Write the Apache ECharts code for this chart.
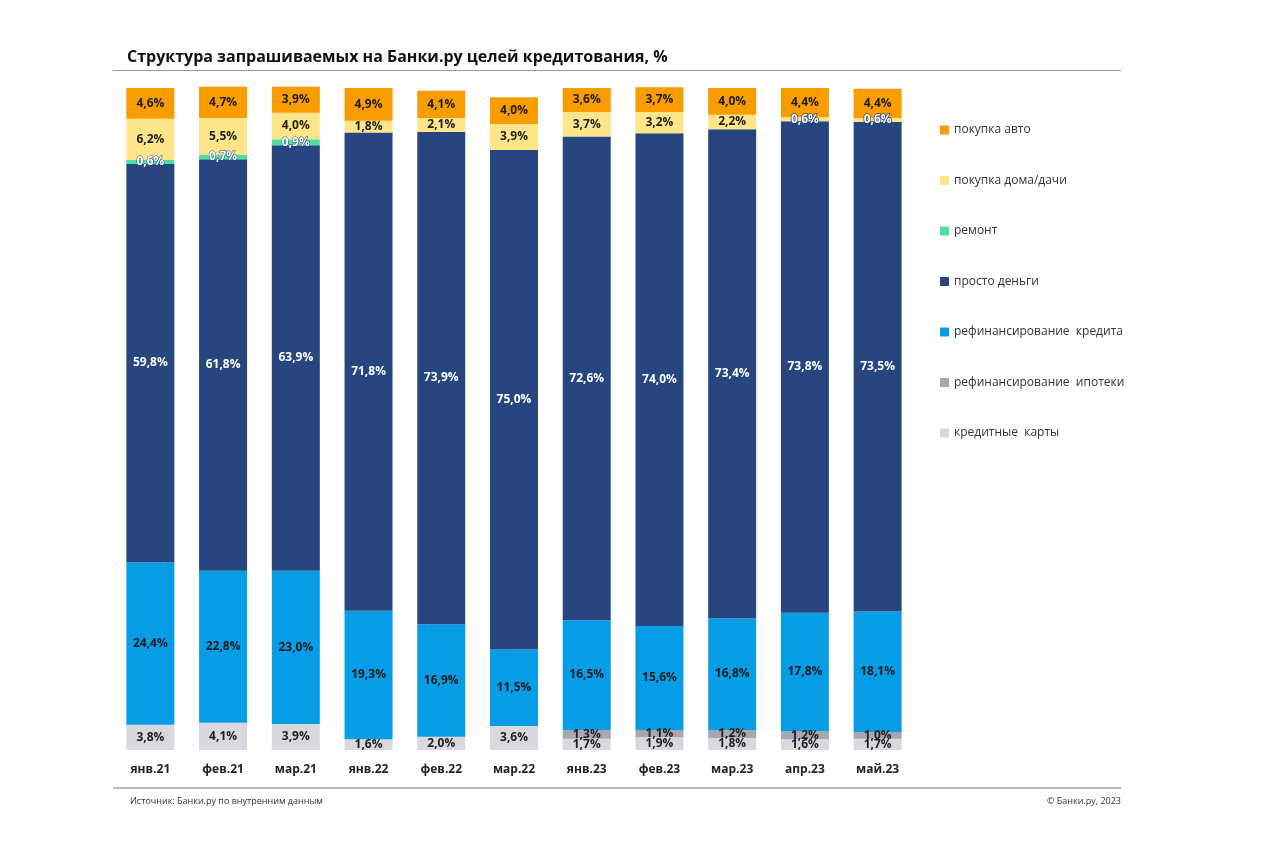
<!DOCTYPE html>
<html><head><meta charset="utf-8">
<script src="https://cdn.jsdelivr.net/npm/echarts@6/dist/echarts.min.js"></script>
<style>html,body{margin:0;padding:0;background:#fff}#c{width:1280px;height:853px}</style>
</head><body><div id="c"></div>
<script>
const categories = ['янв.21','фев.21','мар.21','янв.22','фев.22','мар.22','янв.23','фев.23','мар.23','апр.23','май.23'];
const cards    = [3.8, 4.1, 3.9, 1.6, 2.0, 3.6, 1.7, 1.9, 1.8, 1.6, 1.7];
const mortgage = [0, 0, 0, 0, 0, 0, 1.3, 1.1, 1.2, 1.2, 1.0];
const refin    = [24.4, 22.8, 23.0, 19.3, 16.9, 11.5, 16.5, 15.6, 16.8, 17.8, 18.1];
const money    = [59.8, 61.8, 63.9, 71.8, 73.9, 75.0, 72.6, 74.0, 73.4, 73.8, 73.5];
const repair   = [0.6, 0.7, 0.9, 0, 0, 0, 0, 0, 0, 0, 0];
const house    = [6.2, 5.5, 4.0, 1.8, 2.1, 3.9, 3.7, 3.2, 2.2, 0.6, 0.6];
const auto     = [4.6, 4.7, 3.9, 4.9, 4.1, 4.0, 3.6, 3.7, 4.0, 4.4, 4.4];
const yTicks = [0, 100];

const fmt = p => p.value ? p.value.toFixed(1).replace('.', ',') + '%' : '';
function mk(name, data, color, lbl) {
  return {
    name, type: 'bar', stack: 'a', data, barCategoryGap: '34%',
    itemStyle: { color },
    labelLayout: { hideOverlap: false },
    label: Object.assign({ show: true, position: 'inside', formatter: fmt,
      fontFamily: 'Open Sans', fontWeight: 'bold', fontSize: 12, color: '#1e1e1e' }, lbl || {})
  };
}
const houseSeries = mk('покупка дома/дачи', house.map(v => v < 1
  ? { value: v, label: { color: '#fff', textBorderColor: '#27467f', textBorderWidth: 1.5 } }
  : v), '#fee589');

const chart = echarts.init(document.getElementById('c'));
chart.setOption({
  animation: false,
  title: { text: 'Структура запрашиваемых на Банки.ру целей кредитования, %', left: 122, top: 44,
    textStyle: { fontFamily: 'Open Sans', fontWeight: 'bold', fontSize: 16, color: '#111' } },
  grid: { left: 114, right: 366, top: 84, bottom: 103 },
  legend: {
    orient: 'vertical', left: 935, top: 118, itemWidth: 9, itemHeight: 9, itemGap: 36.5,
    icon: 'rect',
    textStyle: { fontFamily: 'Open Sans', fontSize: 12, color: '#333', lineHeight: 14 },
    data: ['покупка авто','покупка дома/дачи','ремонт','просто деньги','рефинансирование  кредита','рефинансирование  ипотеки','кредитные  карты']
  },
  xAxis: { type: 'category', data: categories,
    axisLine: { show: false }, axisTick: { show: false },
    axisLabel: { margin: 14, fontFamily: 'Open Sans', fontWeight: 'bold', fontSize: 12, color: '#222' } },
  yAxis: { type: 'value', min: yTicks[0], max: yTicks[1], show: false, splitLine: { show: false } },
  series: [
    mk('кредитные  карты', cards, '#d8d9de'),
    mk('рефинансирование  ипотеки', mortgage, '#a7a7b1'),
    mk('рефинансирование  кредита', refin, '#069de6'),
    mk('просто деньги', money, '#27467f', { color: '#fff' }),
    mk('ремонт', repair, '#4fe0a0', { color: '#fff', textBorderColor: '#27467f', textBorderWidth: 1 }),
    houseSeries,
    mk('покупка авто', auto, '#f89c00')
  ],
  graphic: [
    { type: 'line', shape: { x1: 113, y1: 70.5, x2: 1121, y2: 70.5 }, style: { stroke: '#999', lineWidth: 1 } },
    { type: 'line', shape: { x1: 113, y1: 788, x2: 1121, y2: 788 }, style: { stroke: '#bbb', lineWidth: 2 } },
    { type: 'text', left: 130, top: 797, style: { text: 'Источник: Банки.ру по внутренним данным', font: '9px "Open Sans"', fill: '#333' } },
    { type: 'text', right: 159, top: 797, style: { text: '© Банки.ру, 2023', font: '9px "Open Sans"', fill: '#333' } }
  ]
});
</script>
</body></html>
